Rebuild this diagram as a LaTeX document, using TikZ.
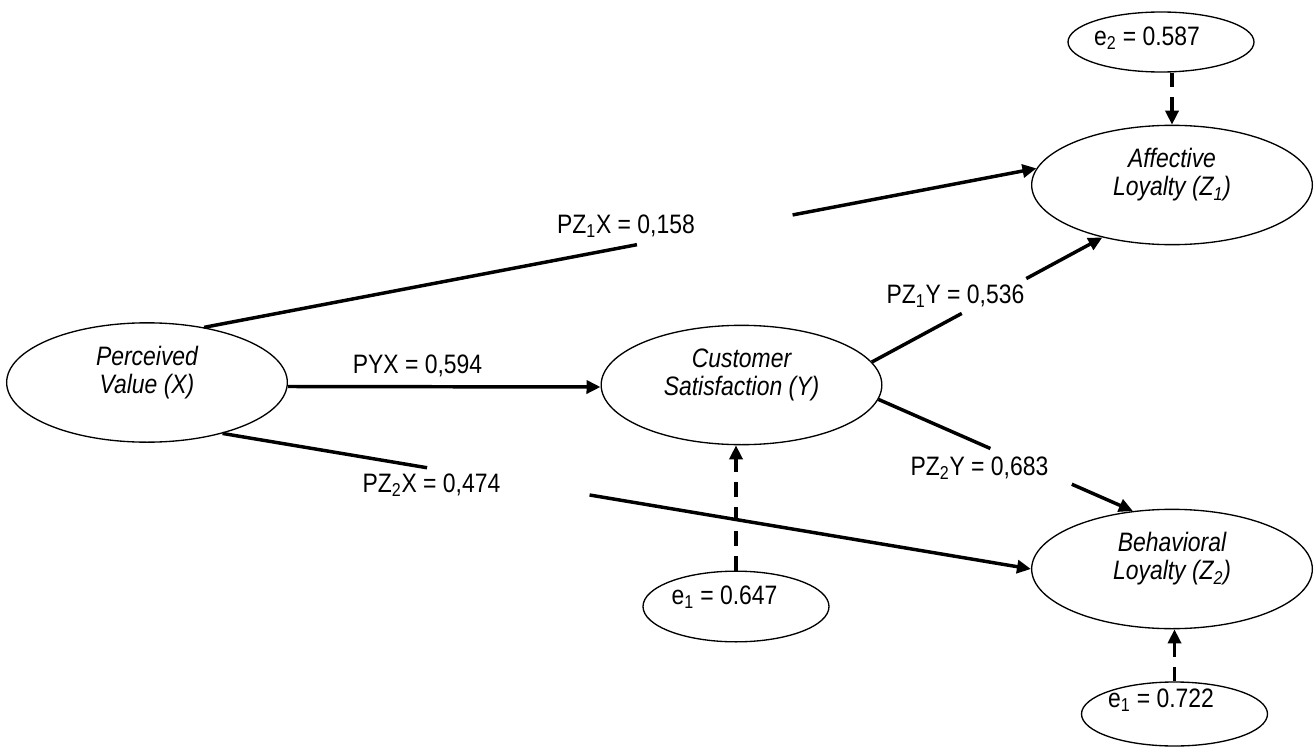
\documentclass[tikz,border=0pt]{standalone}
\usepackage{fontspec}
\setmainfont[FakeStretch=0.86]{Liberation Sans}
\usetikzlibrary{shapes.geometric,arrows.meta}

\tikzset{
  latent/.style={ellipse, draw, line width=1pt, minimum width=210.5pt, minimum height=89.5pt,
    label={[latext]center:#1}},
  latext/.style={align=center, font=\fontsize{20}{21}\selectfont\itshape, yshift=7.5pt},
  errnode/.style={ellipse, draw, line width=1pt, minimum width=139.5pt, minimum height=#1},
  effline/.style={line width=2.6pt},
  effect/.style={effline, -{Triangle[length=10.5pt,width=9.75pt]}},
  errarr/.style={effect, dash pattern=on 11pt off 7.5pt},
}

\begin{document}
\begin{tikzpicture}[x=0.75pt, y=-0.75pt, every node/.style={font=\fontsize{20}{21}\selectfont}]
  \useasboundingbox (0,0) rectangle (1314,749);
  \node[latent={Perceived\\Value (X)}] (X) at (147,382.5) {};
  \node[latent={Customer\\Satisfaction (Y)}] (Y) at (741.5,385) {};
  \node[latent={Affective\\Loyalty (Z\textsubscript{1})}] (Z1) at (1172,185) {};
  \node[latent={Behavioral\\Loyalty (Z\textsubscript{2})}] (Z2) at (1172,569) {};
  \node[errnode=45pt, label={[xshift=-10.5pt,yshift=3pt]center:e\textsubscript{2} = 0.587}] (e2) at (1161,42) {};
  \node[errnode=53pt, label={[xshift=-8.6pt,yshift=7.3pt]center:e\textsubscript{1} = 0.647}] (e1) at (736,606.5) {};
  \node[errnode=48pt, label={[xshift=-10.1pt,yshift=10.6pt]center:e\textsubscript{1} = 0.722}] (e3) at (1174.5,714) {};

  \draw[effect] ([yshift=-3pt]X.east) -- ([yshift=-1.5pt]Y.west);
  \foreach \s/\t/\p/\q [count=\i] in {X.44/Z1.173/0.52/0.707, X.-34/Z2.west/0.253/0.454,
      Y.10/Z1.217/0.39/0.67, Y.-6/Z2.124/0.44/0.76}{
    \path (\s) -- (\t) coordinate[pos=\p] (ga\i) coordinate[pos=\q] (gb\i);
    \draw[effline] (\s) -- (ga\i);
    \draw[effect] (gb\i) -- (\t);
  }
  \foreach \n/\x/\y/\txt in {pyx/417.5/373/{PYX = 0,594}, pzax/626/233/{PZ\textsubscript{1}X = 0,158},
      pzbx/431.5/492/{PZ\textsubscript{2}X = 0,474}, pzay/955.5/303/{PZ\textsubscript{1}Y = 0,536},
      pzby/979.5/475/{PZ\textsubscript{2}Y = 0,683}}
    \node[anchor=base] (\n) at (\x,\y) {\txt};

  \draw[errarr] (e1.north) -- (e1.north |- Y.south);
  \draw[errarr] (Z1.north |- e2.south) -- (Z1.north);
  \draw[errarr] (e3.north) -- (e3.north |- Z2.south);
\end{tikzpicture}
\end{document}
